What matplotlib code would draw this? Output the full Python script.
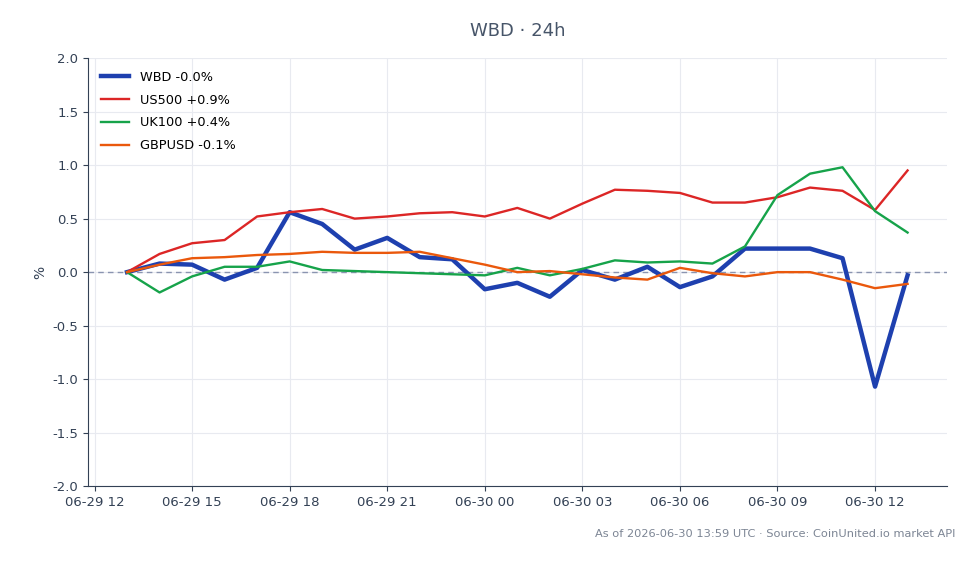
import numpy as np
import pandas as pd
import matplotlib
matplotlib.use("Agg")
import matplotlib.pyplot as plt
import matplotlib.dates as mdates

# hourly points, 06-29 13:00 -> 06-30 13:00 (UTC), % change from first point
times = pd.date_range("2026-06-29 13:00", "2026-06-30 13:00", freq="h")

wbd = [0.00, 0.08, 0.07, -0.07, 0.04, 0.56, 0.45, 0.21, 0.32, 0.14, 0.12, -0.16, -0.10,
       -0.23, 0.02, -0.07, 0.05, -0.14, -0.04, 0.22, 0.22, 0.22, 0.13, -1.07, -0.03]
us500 = [0.00, 0.17, 0.27, 0.30, 0.52, 0.56, 0.59, 0.50, 0.52, 0.55, 0.56, 0.52, 0.60,
         0.50, 0.64, 0.77, 0.76, 0.74, 0.65, 0.65, 0.70, 0.79, 0.76, 0.58, 0.95]
uk100 = [0.00, -0.19, -0.04, 0.05, 0.05, 0.10, 0.02, 0.01, 0.00, -0.01, -0.02, -0.03, 0.04,
         -0.03, 0.03, 0.11, 0.09, 0.10, 0.08, 0.24, 0.72, 0.92, 0.98, 0.57, 0.37]
gbpusd = [0.00, 0.07, 0.13, 0.14, 0.16, 0.17, 0.19, 0.18, 0.18, 0.19, 0.13, 0.07, 0.00,
          0.01, -0.02, -0.05, -0.07, 0.04, -0.01, -0.04, 0.00, 0.00, -0.07, -0.15, -0.11]

labels = ["WBD -0.0%", "US500 +0.9%", "UK100 +0.4%", "GBPUSD -0.1%"]
colors = ["#1e40af", "#dc2626", "#16a34a", "#ea580c"]
widths = [3.2, 1.7, 1.7, 1.7]

fig = plt.figure(figsize=(9.79, 5.64), dpi=100)
ax = fig.add_axes([0.0899, 0.138, 0.877, 0.759])

for series, lab, c, w in zip([wbd, us500, uk100, gbpusd], labels, colors, widths):
    ax.plot(times, series, color=c, lw=w, label=lab, zorder=3)

ax.axhline(0, color="#8a94b0", lw=1, ls=(0, (4, 3)), zorder=2)

ax.set_ylim(-2.0, 2.0)
ax.set_yticks(np.arange(-2.0, 2.01, 0.5))
ax.yaxis.set_major_formatter(plt.FormatStrFormatter("%.1f"))
ax.xaxis.set_major_locator(mdates.HourLocator(byhour=[0, 3, 6, 9, 12, 15, 18, 21]))
ax.xaxis.set_major_formatter(mdates.DateFormatter("%m-%d %H"))

ax.grid(True, color="#e8eaf0", lw=0.8)
ax.set_axisbelow(True)
for s in ["top", "right"]:
    ax.spines[s].set_visible(False)
for s in ["left", "bottom"]:
    ax.spines[s].set_color("#334155")
ax.tick_params(colors="#334155", labelsize=9.5)
ax.set_ylabel("%", color="#334155", fontsize=10)

ax.legend(loc="upper left", frameon=False, fontsize=9.3, handlelength=2.2,
          labelspacing=0.75, borderaxespad=0.6)

fig.text(0.529, 0.945, "WBD · 24h", ha="center", va="center", fontsize=13, color="#475569")
fig.text(0.976, 0.053, "As of 2026-06-30 13:59 UTC · Source: CoinUnited.io market API",
         ha="right", va="center", fontsize=8.2, color="#7c8594")

fig.savefig("out.png", dpi=100)
